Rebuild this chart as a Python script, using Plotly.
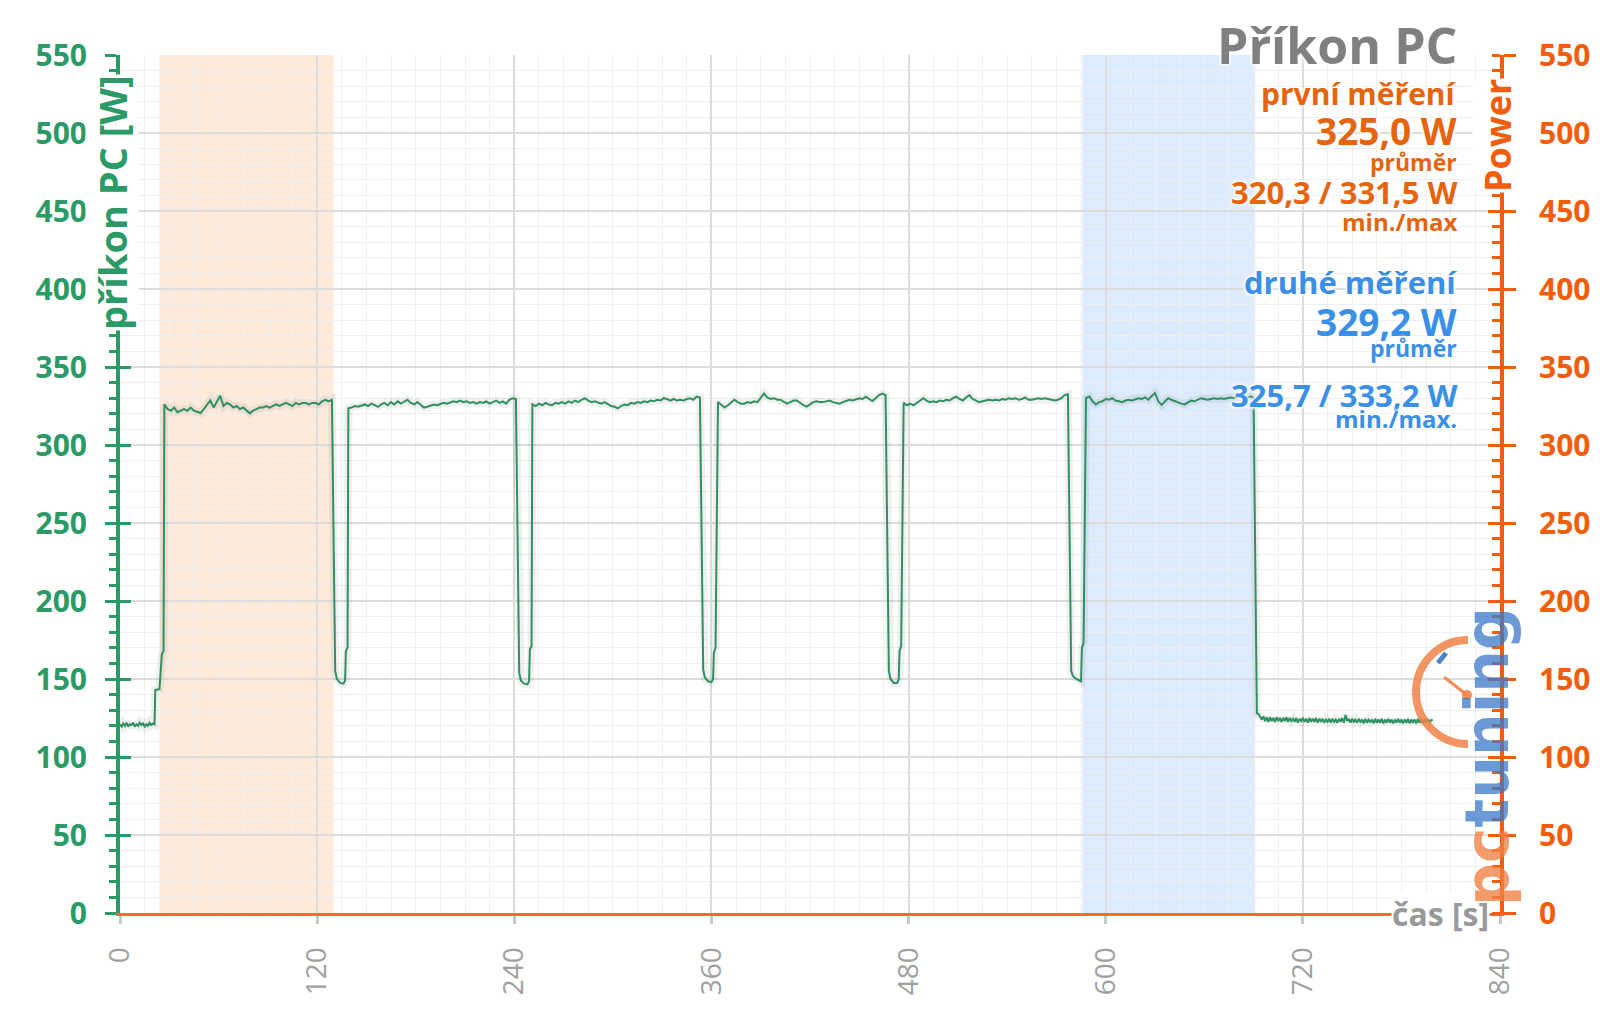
import plotly.graph_objects as go

# ---------------- data ----------------
IDLE_STEP_S = 1
RUN_STEP_S = 2

IDLE_START_T0 = 0
IDLE_START_W = [121, 119.5, 121.5, 120, 122, 119.5, 121, 120.5, 122, 119.5,
                121, 120, 122, 120.5, 121.5, 119.5, 121, 120, 122, 120.5,
                121.5, 121]

RAMP_T = [21.5, 24, 25.5, 26.5]
RAMP_W = [143, 143.5, 166, 168]

RUN_START_S = [27, 139, 251, 364, 477, 588]

RUN_1_W = [326, 323, 322, 324, 321, 322, 323, 322, 324, 322,
           321, 320.5, 323, 326, 328.6, 324, 328, 331.5, 325, 327,
           326, 324, 325, 323, 324, 322, 320.3, 322, 323, 324,
           324, 325, 324, 325, 326, 325, 326, 327, 326, 325,
           327, 326, 327, 327, 326, 327, 327, 326, 328, 329,
           328, 329]
RUN_2_W = [323.5, 324, 325, 324.5, 325.5, 326, 325, 326.5, 325.5, 324.5,
           326, 327, 325.5, 327.5, 326, 328, 326.5, 327.5, 329, 327,
           326, 327.5, 325.5, 324, 324.5, 325.5, 326, 325.5, 326.5, 327,
           326.5, 327.5, 328, 327.5, 328.5, 327.5, 328, 327, 327.5, 326.5,
           327.5, 327, 328, 326.5, 327.5, 328.5, 327, 328, 326.5, 329,
           330, 329.5]
RUN_3_W = [326, 325, 326.5, 325.5, 327, 326, 325.5, 327, 326.5, 327.5,
           326.5, 328, 327, 328.5, 327.5, 329, 330, 328.5, 327.5, 328,
           327, 326.5, 327.5, 326, 325, 324.5, 323.5, 325, 326, 325.5,
           327, 326.5, 327.5, 327, 328, 327.5, 328.5, 328, 329, 328.5,
           330, 329.5, 328.5, 329.5, 328.5, 329, 328.5, 329.5, 330, 329,
           331, 330.5]
RUN_4_W = [327.5, 326, 324, 325.5, 327.5, 329, 327.5, 326.5, 326.5, 327.5,
           327, 328, 327.5, 330.5, 333, 330.5, 329.5, 330, 329, 329,
           327.5, 326.5, 327.5, 328.5, 328.5, 327, 325.5, 324.6, 326, 327.5,
           328, 327.5, 327.5, 328, 328.5, 327.5, 327, 326.5, 327.5, 328.5,
           329, 328.5, 329.5, 330, 329.5, 331, 329.5, 328.2, 330, 332,
           333, 332]
RUN_5_W = [327, 325.5, 326.5, 325.5, 327, 328.5, 330, 328.5, 327.5, 328,
           327.5, 328.5, 328, 329, 328.5, 330, 331, 329.5, 328.5, 330.5,
           332, 329.5, 328.5, 327.5, 328, 328.5, 329, 328.5, 329, 328.5,
           329.5, 329, 330, 329.5, 330, 329, 329.5, 330.5, 329, 329,
           329.5, 330, 329.5, 330, 329.5, 329, 328.5, 329, 330, 332,
           332.5]
RUN_6_W = [330, 331, 328, 326, 327.5, 328, 329.5, 329, 330, 328.5,
           328, 327.5, 328.5, 329, 328.5, 329.5, 330, 329.5, 330.5, 329,
           331.5, 333.2, 328, 325.7, 328, 330, 329, 328, 327.5, 326.5,
           326, 327.5, 328.5, 328, 329, 330, 329.5, 329, 329.5, 330,
           329.5, 330, 329.5, 330, 330.5, 330, 331, 330.5, 330, 330.5,
           331, 330.5]

# dips between runs: time offsets after the last sample of the preceding run
DIP_OFFSET_S = [2, 3, 5, 7, 8, 8.5, 9.5]
DIP_1_W = [155, 150, 147.5, 147, 149, 168, 170]
DIP_2_W = [154, 149, 147, 146.5, 148.5, 169, 171]
DIP_3_W = [156, 151, 148.5, 148, 150, 167, 170]
DIP_4_W = [155, 150, 147.5, 147.5, 149.5, 168, 171]
DIP_5_W = [155, 152, 150, 149, 148.5, 170, 173]

IDLE_END_T0 = 692
IDLE_END_W = [128, 127.5, 126, 124, 126, 123, 125.5, 122.5, 125.5, 123,
              125, 122.5, 125.5, 123, 125, 122.5, 125, 123, 125.5, 122.5,
              125, 123, 124.5, 122.5, 125, 122, 124.5, 123, 125, 122.5,
              124.5, 122, 125, 122.5, 124.5, 122.5, 125, 122, 124.5, 122.5,
              124.5, 122, 124, 122.5, 124.5, 122, 124.5, 122.5, 124, 122,
              124.5, 122.5, 125, 122, 127, 123, 124.5, 122, 124.5, 122.5,
              124, 122, 124.5, 122.5, 124, 121.5, 124.5, 122, 124, 122.5,
              124, 121.5, 124.5, 122, 124, 122, 124.5, 121.5, 124, 122,
              124.5, 122, 124, 121.5, 124, 122, 124.5, 122, 124, 121.5,
              124, 122, 124.5, 121.5, 124, 122, 124, 121.5, 124.5, 122,
              124, 121.5, 124, 122, 124.5, 122, 123.5, 124]

BAND_FIRST_S = [24, 130]
BAND_SECOND_S = [586, 691]

X_RANGE = [0, 840]
X_DTICK = 120
Y_RANGE = [0, 550]
Y_DTICK = 50

TITLE = "Příkon PC"
FIRST_LABELS = ["první měření", "325,0 W", "průměr", "320,3 / 331,5 W", "min./max"]
SECOND_LABELS = ["druhé měření", "329,2 W", "průměr", "325,7 / 333,2 W", "min./max."]

# ---------------- assemble series ----------------
t, w = [], []
for i, v in enumerate(IDLE_START_W):
    t.append(IDLE_START_T0 + i * IDLE_STEP_S)
    w.append(v)
t += RAMP_T
w += RAMP_W
runs = [RUN_1_W, RUN_2_W, RUN_3_W, RUN_4_W, RUN_5_W, RUN_6_W]
dips = [DIP_1_W, DIP_2_W, DIP_3_W, DIP_4_W, DIP_5_W]
for k, run in enumerate(runs):
    for i, v in enumerate(run):
        t.append(RUN_START_S[k] + i * RUN_STEP_S)
        w.append(v)
    if k < len(dips):
        last = t[-1]
        for off, v in zip(DIP_OFFSET_S, dips[k]):
            t.append(last + off)
            w.append(v)
for i, v in enumerate(IDLE_END_W):
    t.append(IDLE_END_T0 + i * IDLE_STEP_S)
    w.append(v)

# ---------------- style ----------------
FONT = "Open Sans"
GREEN = "#2a9a66"
LINE_GREEN = "#2f9162"
ORANGE_AX = "#f25d0c"
ORANGE_TXT = "#e5650f"
BLUE_TXT = "#3a8fe6"
GRAY_TITLE = "#808080"
GRAY_TICK = "#a0a0a0"
GRID_MAJOR = "#dcdcdc"
GRID_MINOR = "#efefef"
HALO = "0px 0px 3px #fff, 0px 0px 3px #fff, 0px 0px 4px #fff, 0px 0px 4px #fff"

L, R, T, B = 120, 100, 55, 96
W_PX, H_PX = 1600, 1009
PW, PH = W_PX - L - R, H_PX - T - B


def px_x(x):
    return (x - L) / PW


def px_y(y):
    return (H_PX - B - y) / PH


fig = go.Figure()

# soft shadow under the line
fig.add_trace(go.Scatter(x=t, y=w, mode="lines", line=dict(color="rgba(0,0,0,0.06)", width=8),
                         hoverinfo="skip", showlegend=False))
fig.add_trace(go.Scatter(x=t, y=w, mode="lines", line=dict(color=LINE_GREEN, width=2),
                         name="příkon PC", showlegend=False))
# invisible traces to bind helper axes
for ax in ["y2", "y3", "y4"]:
    fig.add_trace(go.Scatter(x=X_RANGE, y=Y_RANGE, yaxis=ax, mode="lines", line=dict(width=0),
                             opacity=0, hoverinfo="skip", showlegend=False))

# measurement bands
fig.add_vrect(x0=BAND_FIRST_S[0], x1=BAND_FIRST_S[1], fillcolor="#fdeadb", line_width=0, layer="below")
fig.add_vrect(x0=BAND_SECOND_S[0], x1=BAND_SECOND_S[1], fillcolor="#dcebfd", line_width=0, layer="below")

fig.update_layout(
    width=W_PX, height=H_PX,
    margin=dict(l=L, r=R, t=T, b=B, pad=0, autoexpand=False),
    paper_bgcolor="white", plot_bgcolor="white",
    font=dict(family=FONT),
    xaxis=dict(range=X_RANGE, tick0=0, dtick=X_DTICK, ticks="outside", ticklen=8, tickwidth=3,
               tickcolor="#c9c9c9", tickangle=-90, ticklabelstandoff=12, automargin=False,
               tickfont=dict(family=FONT, size=28, color=GRAY_TICK),
               showline=True, linecolor="#ee6a3a", linewidth=3,
               showgrid=True, gridcolor=GRID_MAJOR, gridwidth=1.5,
               minor=dict(dtick=15, showgrid=True, gridcolor=GRID_MINOR, gridwidth=1),
               zeroline=False),
    yaxis=dict(range=Y_RANGE, tick0=0, dtick=Y_DTICK, ticks="outside", ticklen=11, tickwidth=3,
               tickcolor=GREEN, ticklabelstandoff=12, automargin=False,
               tickfont=dict(family=FONT, size=30, color=GREEN, weight=700),
               showline=True, linecolor=GREEN, linewidth=4,
               showgrid=True, gridcolor=GRID_MAJOR, gridwidth=1.5,
               minor=dict(dtick=10, ticks="outside", ticklen=7, tickwidth=2.5, tickcolor=GREEN,
                          showgrid=True, gridcolor=GRID_MINOR, gridwidth=1),
               zeroline=False),
    yaxis2=dict(range=Y_RANGE, overlaying="y", side="right", tick0=0, dtick=Y_DTICK,
                ticks="outside", ticklen=12, tickwidth=3, tickcolor=ORANGE_AX, ticklabelstandoff=17,
                automargin=False,
                tickfont=dict(family=FONT, size=30, color=ORANGE_AX, weight=700),
                showline=True, linecolor=ORANGE_AX, linewidth=4, showgrid=False,
                minor=dict(dtick=10, ticks="inside", ticklen=8, tickwidth=2.5, tickcolor=ORANGE_AX,
                           showgrid=False),
                zeroline=False),
    yaxis3=dict(range=Y_RANGE, overlaying="y", side="left", tick0=0, dtick=Y_DTICK,
                ticks="inside", ticklen=11, tickwidth=3, tickcolor=GREEN, automargin=False,
                showticklabels=False, showline=False, showgrid=False, zeroline=False),
    yaxis4=dict(range=Y_RANGE, overlaying="y", side="right", tick0=0, dtick=Y_DTICK,
                ticks="inside", ticklen=12, tickwidth=3, tickcolor=ORANGE_AX, automargin=False,
                showticklabels=False, showline=False, showgrid=False, zeroline=False),
    showlegend=False,
)


def ann(text, x, y, size, color, weight=700, xanchor="right", angle=0, bg=None, shadow=HALO):
    fig.add_annotation(text=text, x=x, y=y, xref="paper", yref="paper", showarrow=False,
                       xanchor=xanchor, yanchor="middle", textangle=angle,
                       bgcolor=bg, borderpad=0,
                       font=dict(family=FONT, size=size, color=color, weight=weight, shadow=shadow))


XR = px_x(1458)
ann(TITLE, XR, px_y(45), 50, GRAY_TITLE)
ann(FIRST_LABELS[0], XR, px_y(93), 30, ORANGE_TXT)
ann(FIRST_LABELS[1], XR, px_y(130), 37, ORANGE_TXT)
ann(FIRST_LABELS[2], XR, px_y(162), 23, ORANGE_TXT)
ann(FIRST_LABELS[3], XR, px_y(192), 31, ORANGE_TXT)
ann(FIRST_LABELS[4], XR, px_y(221), 24, ORANGE_TXT)
ann(SECOND_LABELS[0], XR, px_y(282), 31, BLUE_TXT)
ann(SECOND_LABELS[1], XR, px_y(322), 37, BLUE_TXT)
ann(SECOND_LABELS[2], XR, px_y(348), 23, BLUE_TXT)
ann(SECOND_LABELS[3], XR, px_y(395), 31, BLUE_TXT)
ann(SECOND_LABELS[4], XR, px_y(418), 24, BLUE_TXT)

# axis titles
ann("příkon PC [W]", px_x(112), px_y(203), 38, GREEN, xanchor="center", angle=-90, bg="white", shadow=None)
ann("Power", px_x(1498), px_y(136), 36, ORANGE_AX, xanchor="center", angle=-90, bg="white", shadow=None)
ann("čas [s]", px_x(1490), px_y(913), 32, "#999999", bg="white", shadow=None)

# watermark logo (pctuning)
LOGO_CX, LOGO_CY, LOGO_R = 1468, 692, 52
k = 0.5523 * LOGO_R
pts = [
    (LOGO_CX, LOGO_CY - LOGO_R),
    (LOGO_CX - k, LOGO_CY - LOGO_R), (LOGO_CX - LOGO_R, LOGO_CY - k), (LOGO_CX - LOGO_R, LOGO_CY),
    (LOGO_CX - LOGO_R, LOGO_CY + k), (LOGO_CX - k, LOGO_CY + LOGO_R), (LOGO_CX, LOGO_CY + LOGO_R),
]
p = [(px_x(a), px_y(b)) for a, b in pts]
path = (f"M {p[0][0]},{p[0][1]} C {p[1][0]},{p[1][1]} {p[2][0]},{p[2][1]} {p[3][0]},{p[3][1]} "
        f"C {p[4][0]},{p[4][1]} {p[5][0]},{p[5][1]} {p[6][0]},{p[6][1]}")
fig.add_shape(type="path", path=path, xref="paper", yref="paper",
              line=dict(color="rgba(240,130,70,0.85)", width=8), layer="above")
fig.add_shape(type="line", xref="paper", yref="paper",
              x0=px_x(1444), y0=px_y(677), x1=px_x(1467), y1=px_y(695),
              line=dict(color="rgba(240,130,70,0.9)", width=3), layer="above")
fig.add_shape(type="circle", xref="paper", yref="paper",
              x0=px_x(1462), y0=px_y(690), x1=px_x(1472), y1=px_y(700),
              fillcolor="rgba(240,130,70,0.9)", line_width=0, layer="above")
fig.add_shape(type="line", xref="paper", yref="paper",
              x0=px_x(1438), y0=px_y(663), x1=px_x(1446), y1=px_y(653),
              line=dict(color="rgba(58,120,200,0.9)", width=5), layer="above")
fig.add_annotation(text="<span style='color:rgba(240,130,70,0.8)'>pc</span>"
                        "<span style='color:rgba(58,120,200,0.75)'>tuning</span>",
                   x=px_x(1487), y=px_y(757), xref="paper", yref="paper", showarrow=False,
                   xanchor="center", yanchor="middle", textangle=-90,
                   font=dict(family="DejaVu Sans", size=60, weight=700))

fig.write_html("out.html", include_plotlyjs=True, full_html=True,
               config={"displayModeBar": False},
               post_script="document.body.style.margin='0px';document.body.style.overflow='hidden';")
